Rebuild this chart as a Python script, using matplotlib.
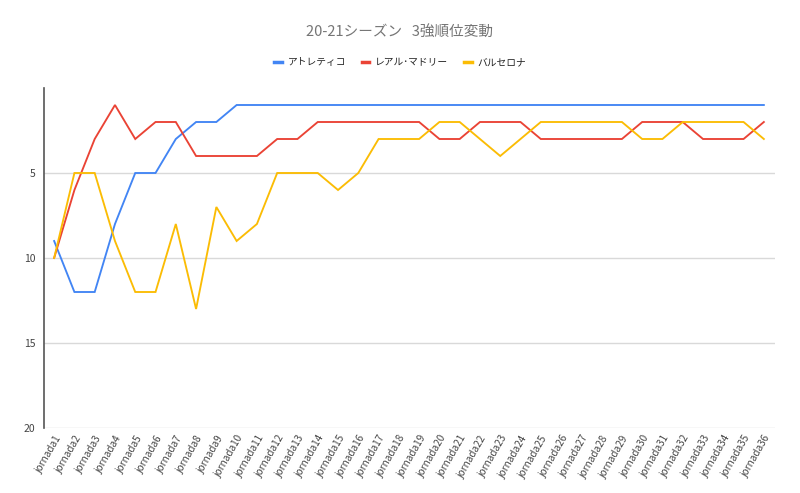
import matplotlib
matplotlib.use("Agg")
import matplotlib.pyplot as plt
from matplotlib.lines import Line2D

plt.rcParams['font.family'] = ['Noto Sans CJK JP', 'DejaVu Sans']

jornadas = [f"jornada{i}" for i in range(1, 37)]
atletico = [9, 12, 12, 8, 5, 5, 3, 2, 2, 1, 1, 1, 1, 1, 1, 1, 1, 1,
            1, 1, 1, 1, 1, 1, 1, 1, 1, 1, 1, 1, 1, 1, 1, 1, 1, 1]
real_madrid = [10, 6, 3, 1, 3, 2, 2, 4, 4, 4, 4, 3, 3, 2, 2, 2, 2, 2,
               2, 3, 3, 2, 2, 2, 3, 3, 3, 3, 3, 2, 2, 2, 3, 3, 3, 2]
barcelona = [10, 5, 5, 9, 12, 12, 8, 13, 7, 9, 8, 5, 5, 5, 6, 5, 3, 3,
             3, 2, 2, 3, 4, 3, 2, 2, 2, 2, 2, 3, 3, 2, 2, 2, 2, 3]
series_names = ["アトレティコ", "レアル･マドリー", "バルセロナ"]
colors = ["#4285F4", "#EA4335", "#FBBC04"]
title = "20-21シーズン   3強順位変動"

fig = plt.figure(figsize=(8, 4.93), dpi=100)
ax = fig.add_axes([44/800, 1-428/493, (775-44)/800, (428-88)/493])

x = list(range(len(jornadas)))
for vals, c in zip([atletico, real_madrid, barcelona], colors):
    ax.plot(x, vals, color=c, linewidth=1.35, solid_joinstyle='miter', zorder=3)

ax.set_xlim(-0.5, 35.55)
ax.set_ylim(20, 0)
ax.set_yticks([5, 10, 15, 20])
ax.set_yticklabels(["5", "10", "15", "20"])
for yv in [5, 10, 15, 20]:
    ax.axhline(yv, color="#d9d9d9", linewidth=1, zorder=1)
ax.set_xticks(x)
ax.set_xticklabels(jornadas, rotation=60, ha='right', va='top',
                   rotation_mode='anchor', fontsize=7.2, color="#444444")
ax.tick_params(axis='x', length=0, pad=4)
ax.tick_params(axis='y', length=0, pad=6, labelsize=7.5, labelcolor="#444444")
for s in ['top', 'right', 'bottom']:
    ax.spines[s].set_visible(False)
ax.spines['left'].set_color("#555555")
ax.spines['left'].set_linewidth(1.2)

fig.text(0.5, 1-32/493, title, ha='center', va='center', fontsize=10.5, color="#757575")

handles = [Line2D([0], [0], color=c, linewidth=2.5) for c in colors]
fig.legend(handles, series_names, loc='center', bbox_to_anchor=(0.5, 1-62/493),
           ncol=3, frameon=False, fontsize=7, handlelength=0.8, handletextpad=0.6,
           columnspacing=1.6, labelcolor="#222222")

fig.savefig("out.png", dpi=100, facecolor="white")
